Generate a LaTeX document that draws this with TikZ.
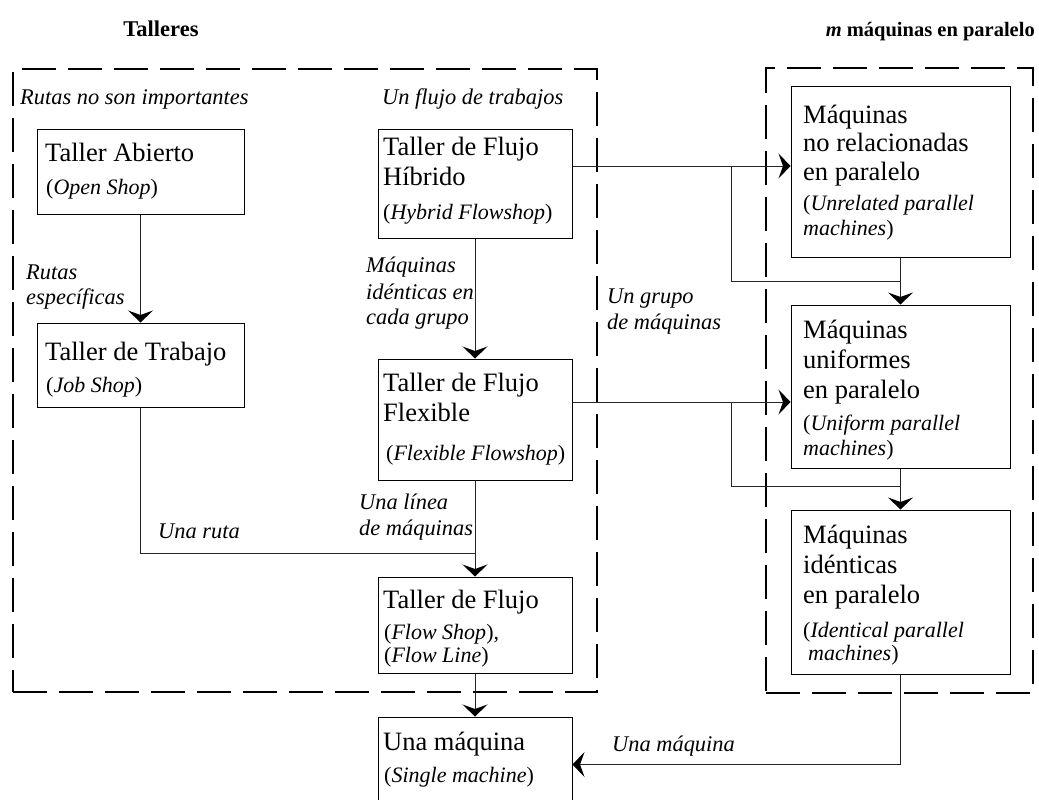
\documentclass[tikz,border=0pt]{standalone}
\usepackage{fontspec}
\setmainfont{Liberation Serif}
\usetikzlibrary{arrows.meta}
\begin{document}
\begin{tikzpicture}[x=1pt,y=-1pt,
  box/.style={draw, line width=1pt, rectangle, inner sep=0pt},
  group/.style={draw, line width=2.6pt, dash pattern=on 34pt off 12pt, rectangle, inner sep=0pt},
  conn/.style={line width=1pt, draw=black!85},
  arr/.style={conn, -{Stealth[length=12pt,width=25pt,inset=4.5pt,color=black,fill=black]}},
  main/.style={anchor=base west, inner sep=0pt, font=\fontsize{26.5}{30}\selectfont},
  sub/.style={anchor=base west, inner sep=0pt, font=\fontsize{22}{26}\selectfont},
  lab/.style={anchor=base west, inner sep=0pt, font=\fontsize{22.4}{26}\selectfont\itshape},
  head/.style={inner sep=0pt, font=\fontsize{21}{25}\selectfont\bfseries}]
\clip (0,0) rectangle (1039,800);

% headings
\node[head, anchor=base, font=\fontsize{22.5}{26}\selectfont\bfseries] (h-talleres) at (161,37) {Talleres};
\node[head, anchor=base east, font=\fontsize{20.5}{25}\selectfont\bfseries] (h-paralelo) at (1035,37) {\textit{m} máquinas en paralelo};

% dashed groups
\node[group, minimum width=584pt, minimum height=623pt] (talleres) at (305,380.5) {};
\node[group, minimum width=267pt, minimum height=625pt] (paralelo) at (899.5,380.5) {};

% boxes
\node[box, minimum width=207pt, minimum height=85pt]  (abierto) at (140.5,171.5) {};
\node[box, minimum width=207pt, minimum height=84pt]  (trabajo) at (140.5,365) {};
\node[box, minimum width=194pt, minimum height=109pt] (hib)     at (475,183.5) {};
\node[box, minimum width=194pt, minimum height=121pt] (flex)    at (475,419.5) {};
\node[box, minimum width=194pt, minimum height=96pt]  (flow)    at (475,625) {};
\node[box, minimum width=194pt, minimum height=95pt]  (single)  at (475,764.5) {};
\node[box, minimum width=219pt, minimum height=170pt] (unrel)   at (900.5,172) {};
\node[box, minimum width=219pt, minimum height=163pt] (unif)    at (900.5,386.5) {};
\node[box, minimum width=219pt, minimum height=164pt] (ident)   at (900.5,592) {};

% box texts
\node[main] (abierto-1) at (45,161) {Taller Abierto};
\node[sub]  (abierto-2) at (46,194) {(\textit{Open Shop})};
\node[main] (trabajo-1) at (45,360) {Taller de Trabajo};
\node[sub]  (trabajo-2) at (46,392) {(\textit{Job Shop})};
\node[main] (hib-1) at (383,155) {Taller de Flujo};
\node[main] (hib-2) at (383,185) {Híbrido};
\node[sub]  (hib-3) at (383,219) {(\textit{Hybrid Flowshop})};
\node[main] (flex-1) at (383,391) {Taller de Flujo};
\node[main] (flex-2) at (383,421) {Flexible};
\node[sub]  (flex-3) at (386,460) {(\textit{Flexible Flowshop})};
\node[main] (flow-1) at (383,608) {Taller de Flujo};
\node[sub]  (flow-2) at (384,639) {(\textit{Flow Shop}),};
\node[sub]  (flow-3) at (384,662) {(\textit{Flow Line})};
\node[main] (single-1) at (383,750) {Una máquina};
\node[sub]  (single-2) at (384,782) {(\textit{Single machine})};
\node[main] (unrel-1) at (803,123) {Máquinas};
\node[main] (unrel-2) at (803,151) {no relacionadas};
\node[main] (unrel-3) at (803,180) {en paralelo};
\node[sub]  (unrel-4) at (803,210) {(\textit{Unrelated parallel}};
\node[sub]  (unrel-5) at (803,235) {\textit{machines})};
\node[main] (unif-1) at (803,338) {Máquinas};
\node[main] (unif-2) at (803,368) {uniformes};
\node[main] (unif-3) at (803,398) {en paralelo};
\node[sub]  (unif-4) at (803,430) {(\textit{Uniform parallel}};
\node[sub]  (unif-5) at (803,455) {\textit{machines})};
\node[main] (ident-1) at (803,543) {Máquinas};
\node[main] (ident-2) at (803,573) {idénticas};
\node[main] (ident-3) at (803,603) {en paralelo};
\node[sub]  (ident-4) at (803,637) {(\textit{Identical parallel}};
\node[sub]  (ident-5) at (808,660) {\textit{machines})};

% connector labels
\node[lab] (l-rutas)   at (20,104)  {Rutas no son importantes};
\node[lab] (l-flujo)   at (382,104) {Un flujo de trabajos};
\node[lab] (l-esp-1)   at (26,279)  {Rutas};
\node[lab] (l-esp-2)   at (26,304)  {específicas};
\node[lab] (l-ident-1) at (366,272)  {Máquinas};
\node[lab] (l-ident-2) at (366,299)  {idénticas en};
\node[lab] (l-ident-3) at (366,324)  {cada grupo};
\node[lab] (l-grupo-1) at (607,303)  {Un grupo};
\node[lab] (l-grupo-2) at (607,329)  {de máquinas};
\node[lab] (l-ruta)    at (158,538)  {Una ruta};
\node[lab] (l-linea-1) at (359,509)  {Una línea};
\node[lab] (l-linea-2) at (359,535)  {de máquinas};
\node[lab] (l-una)     at (612,751)  {Una máquina};

% junctions
\coordinate (ja) at (731,166);
\coordinate (jb) at (900.5,281);
\coordinate (jc) at (731,402);
\coordinate (jd) at (900.5,486);
\coordinate (je) at (475,553);

% connectors
\draw[arr] (abierto) -- (trabajo);
\draw[arr] (hib) -- (flex);
\draw[arr] (flex) -- (flow);
\draw[arr] (flow) -- (single);
\draw[conn] (trabajo.south) |- (je);
\draw[arr] (ja -| hib.east) -- (ja -| unrel.west);
\draw[conn] (ja) |- (jb);
\draw[arr] (unrel) -- (unif);
\draw[arr] (jc -| flex.east) -- (jc -| unif.west);
\draw[conn] (jc) |- (jd);
\draw[arr] (unif) -- (ident);
\draw[arr] (ident.south) |- (single.east);
\end{tikzpicture}
\end{document}
